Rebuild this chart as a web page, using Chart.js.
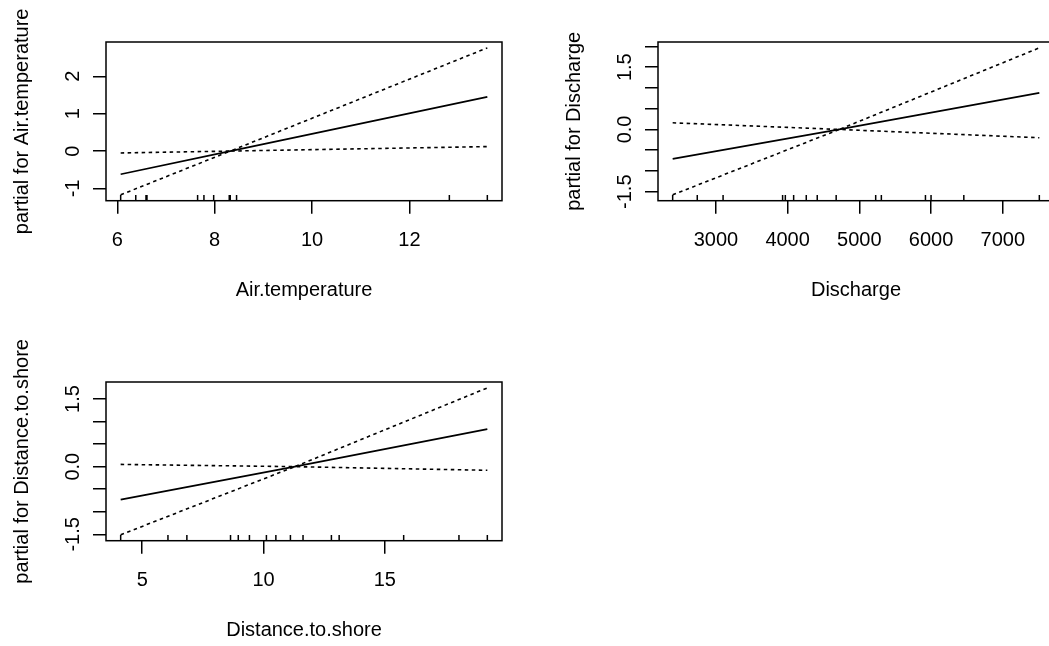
<!DOCTYPE html>
<html>
<head>
<meta charset="utf-8">
<title>termplot</title>
<script src="https://cdn.jsdelivr.net/npm/chart.js@4.4.1/dist/chart.umd.min.js"></script>
<style>
  html, body { margin: 0; padding: 0; background: #fff; }
  body { width: 1049px; height: 646px; overflow: hidden; position: relative; }
  canvas { position: absolute; }
</style>
</head>
<body>
<canvas id="air" width="552" height="340" style="left:0;top:0"></canvas>
<canvas id="discharge" width="552" height="340" style="left:552px;top:0"></canvas>
<canvas id="distance" width="552" height="340" style="left:0;top:340px"></canvas>
<script>
// Air.temperature term: fit and +/- 2 se bands
var airX = [6.07, 8.32, 13.6];
var airFit = [-0.62, 0, 1.45];
var airUpper = [-0.05, 0, 2.76];
var airLower = [-1.17, 0, 0.12];
var airRug = [6.07, 6.38, 6.59, 6.61, 7.65, 7.78, 7.98, 8.30, 8.32, 8.45, 12.82, 13.6];
var airXTicks = [6, 8, 10, 12];
var airYTicks = [-1, 0, 1, 2];
var airYLabels = ['-1', '0', '1', '2'];

// Discharge term
var disX = [2397, 4720, 7510];
var disFit = [-0.71, 0, 0.88];
var disUpper = [0.16, 0, 1.965];
var disLower = [-1.575, 0, -0.20];
var disRug = [2397, 2740, 3100, 3930, 3968, 4084, 4260, 4413, 4677, 5228, 5307, 5922, 6000, 6457, 7510];
var disXTicks = [3000, 4000, 5000, 6000, 7000];
var disYTicks = [-1.5, -1, -0.5, 0, 0.5, 1, 1.5, 2];
var disYLabels = ['-1.5', '', '', '0.0', '', '', '1.5', ''];

// Distance.to.shore term
var distX = [4.11, 11.29, 19.23];
var distFit = [-0.73, 0, 0.833];
var distUpper = [0.05, 0, 1.746];
var distLower = [-1.51, 0, -0.08];
var distRug = [4.11, 6.06, 6.84, 8.64, 8.96, 9.42, 10.12, 10.51, 11.11, 11.63, 12.80, 13.12, 15.78, 18.06, 19.23];
var distXTicks = [5, 10, 15];
var distYTicks = [-1.5, -1, -0.5, 0, 0.5, 1, 1.5];
var distYLabels = ['-1.5', '', '', '0.0', '', '', '1.5'];

var FONT = '"Liberation Sans", Arial, sans-serif';

// R style axis limits: data range widened by 4% each side
function padRange(vals) {
  var lo = Math.min.apply(null, vals), hi = Math.max.apply(null, vals);
  var d = (hi - lo) * 0.04;
  return [lo - d, hi + d];
}

function pts(xs, ys) {
  return xs.map(function (x, i) { return { x: x, y: ys[i] }; });
}

// box round the plot region plus y tick labels written along the axis
var frame = {
  id: 'frame',
  afterDraw: function (chart) {
    var a = chart.chartArea, ctx = chart.ctx, ys = chart.scales.y;
    var labels = chart.options.plugins.frame.labels;
    ctx.save();
    ctx.strokeStyle = '#000';
    ctx.lineWidth = 1.5;
    ctx.strokeRect(a.left, a.top, a.right - a.left, a.bottom - a.top);
    ctx.fillStyle = '#000';
    ctx.font = '20px ' + FONT;
    ctx.textAlign = 'center';
    ctx.textBaseline = 'alphabetic';
    ys.ticks.forEach(function (t, i) {
      if (!labels[i]) return;
      ctx.save();
      ctx.translate(a.left - 27.5, ys.getPixelForValue(t.value));
      ctx.rotate(-Math.PI / 2);
      ctx.fillText(labels[i], 0, 0);
      ctx.restore();
    });
    ctx.restore();
  }
};

function termPlot(id, name, x, fit, upper, lower, rug, xTicks, yTicks, yLabels) {
  var xl = padRange(rug);
  var yl = padRange(upper.concat(lower));
  var rugLen = (yl[1] - yl[0]) * 0.036;
  var rugPts = [];
  rug.forEach(function (v) {
    rugPts.push({ x: v, y: yl[0] }, { x: v, y: yl[0] + rugLen }, { x: v, y: null });
  });
  var band = { borderColor: '#000', borderWidth: 1.6, borderDash: [3.5, 3.5], pointRadius: 0, fill: false };

  new Chart(document.getElementById(id), {
    type: 'line',
    data: {
      datasets: [
        { data: pts(x, fit), borderColor: '#000', borderWidth: 1.7, pointRadius: 0, fill: false },
        Object.assign({ data: pts(x, upper) }, band),
        Object.assign({ data: pts(x, lower) }, band),
        { data: rugPts, borderColor: '#000', borderWidth: 1.5, pointRadius: 0, spanGaps: false, clip: false }
      ]
    },
    options: {
      responsive: false,
      animation: false,
      devicePixelRatio: 1,
      layout: { padding: { left: 0, top: 42, right: 50, bottom: 38 } },
      plugins: { legend: { display: false }, tooltip: { enabled: false }, frame: { labels: yLabels } },
      scales: {
        x: {
          type: 'linear', min: xl[0], max: xl[1],
          afterBuildTicks: function (s) { s.ticks = xTicks.map(function (v) { return { value: v }; }); },
          afterFit: function (s) { s.height = 101.3; },
          grid: { drawOnChartArea: false, drawTicks: true, tickLength: 13, color: '#000', lineWidth: 1.5 },
          border: { display: false },
          ticks: {
            padding: 14.6, color: '#000', font: { family: FONT, size: 20 }, maxRotation: 0, autoSkip: false,
            callback: function (v) { return String(v); }
          },
          title: { display: true, text: name, color: '#000', font: { family: FONT, size: 20 }, padding: 0 }
        },
        y: {
          type: 'linear', min: yl[0], max: yl[1],
          afterBuildTicks: function (s) { s.ticks = yTicks.map(function (v) { return { value: v }; }); },
          afterFit: function (s) { s.width = 106; },
          grid: { drawOnChartArea: false, drawTicks: true, tickLength: 13, color: '#000', lineWidth: 1.5 },
          border: { display: false },
          ticks: { display: false },
          title: { display: true, text: 'partial for ' + name, color: '#000', font: { family: FONT, size: 20 }, padding: { top: 10.5, bottom: 0 } }
        }
      }
    },
    plugins: [frame]
  });
}

termPlot('air', 'Air.temperature', airX, airFit, airUpper, airLower, airRug, airXTicks, airYTicks, airYLabels);
termPlot('discharge', 'Discharge', disX, disFit, disUpper, disLower, disRug, disXTicks, disYTicks, disYLabels);
termPlot('distance', 'Distance.to.shore', distX, distFit, distUpper, distLower, distRug, distXTicks, distYTicks, distYLabels);
</script>
</body>
</html>
